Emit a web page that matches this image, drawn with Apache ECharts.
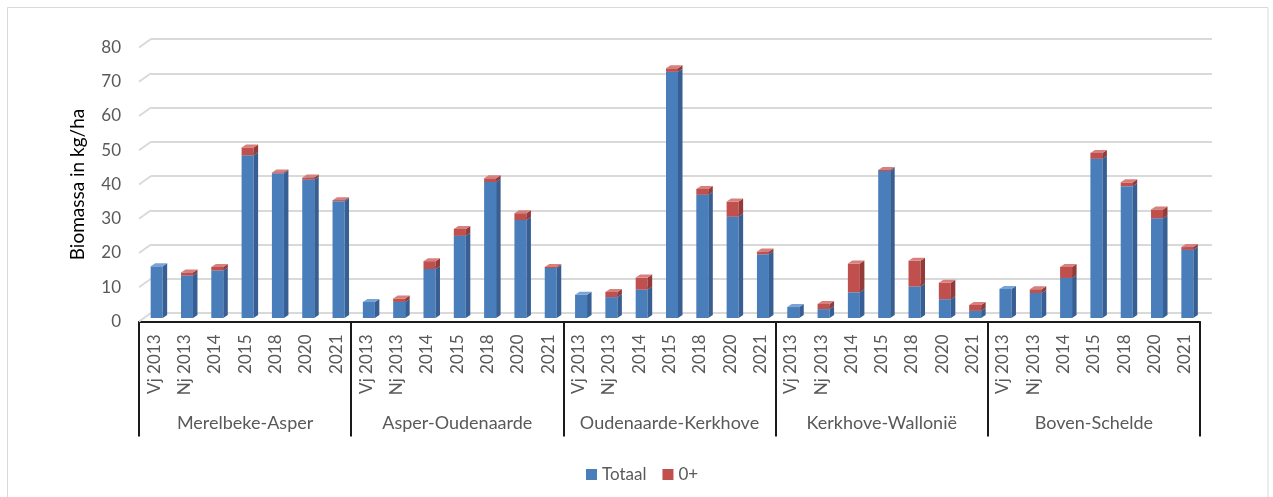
<!DOCTYPE html>
<html>
<head>
<meta charset="utf-8">
<title>Biomassa per traject</title>
<script src="https://cdn.jsdelivr.net/npm/echarts@6/dist/echarts.min.js"></script>
<style>
  html, body { margin: 0; padding: 0; background: #ffffff; }
  #chart { width: 1273px; height: 497px; }
</style>
</head>
<body>
<div id="chart"></div>
<script>
// Sampling periods within each river stretch
const periods = ['Vj 2013', 'Nj 2013', '2014', '2015', '2018', '2020', '2021'];
const trajecten = ['Merelbeke-Asper', 'Asper-Oudenaarde', 'Oudenaarde-Kerkhove', 'Kerkhove-Wallonië', 'Boven-Schelde'];

// Biomass (kg/ha), lower segment of each column
const totaal = [
  15.1, 12.4, 13.9, 47.5, 42.2, 40.4, 34.1,
  4.7, 4.7, 14.3, 24.0, 39.7, 28.6, 14.6,
  6.8, 6.1, 8.3, 71.9, 36.0, 29.6, 18.6,
  3.2, 2.6, 7.5, 42.9, 9.2, 5.5, 2.1,
  8.5, 7.3, 11.7, 46.5, 38.5, 29.1, 19.9
];

// Biomass (kg/ha) of the 0+ fish, stacked on top
const nulPlus = [
  0, 0.9, 1.0, 2.3, 0.3, 0.6, 0.3,
  0, 1.0, 2.3, 2.0, 1.1, 2.0, 0.3,
  0, 1.5, 3.5, 1.0, 1.7, 4.4, 0.8,
  0, 1.5, 8.4, 0.3, 7.5, 4.8, 1.7,
  0, 1.1, 3.2, 1.7, 1.1, 2.6, 0.8
];

const yTicks = [0, 10, 20, 30, 40, 50, 60, 70, 80];

const categories = trajecten.flatMap(() => periods);

// Pseudo-3D column look
const BAR_W = 12;        // front face width
const BAR_OFF = -3.5;    // front face left edge relative to band centre
const LIFT = 3.5;        // columns stand slightly behind the front floor edge
const DX = 4.5, DY = 3;  // depth of the column prism
const WALL_DX = 12, WALL_DY = 8.5; // back wall offset

const shades = {
  blue: { front: '#4a7ebb', side: '#375f93', top: '#7aa3d6' },
  red:  { front: '#c0504d', side: '#923b39', top: '#d8807d' }
};

function prism(api, lo, hi, c) {
  const idx = api.value(0);
  const cx = api.coord([idx, 0])[0];
  const yb = api.coord([idx, lo])[1] - LIFT;
  const yt = api.coord([idx, hi])[1] - LIFT;
  const x0 = cx + BAR_OFF, x1 = x0 + BAR_W;
  return {
    type: 'group',
    children: [
      { type: 'rect', shape: { x: x0, y: yt, width: BAR_W, height: yb - yt }, style: { fill: c.front } },
      { type: 'polygon', shape: { points: [[x1, yb], [x1 + DX, yb - DY], [x1 + DX, yt - DY], [x1, yt]] }, style: { fill: c.side } },
      { type: 'polygon', shape: { points: [[x0, yt], [x1, yt], [x1 + DX, yt - DY], [x0 + DX, yt - DY]] }, style: { fill: c.top } }
    ]
  };
}

const chart = echarts.init(document.getElementById('chart'), null, { renderer: 'canvas' });

chart.setOption({
  animation: false,
  backgroundColor: '#ffffff',
  textStyle: { fontFamily: 'Lato' },
  graphic: [{
    type: 'rect', silent: true, z: -10,
    shape: { x: 7.5, y: 7.5, width: 1260.5, height: 496 },
    style: { fill: 'none', stroke: '#d9d9d9', lineWidth: 1 }
  }],
  legend: {
    left: 581, top: 461,
    icon: 'rect', itemWidth: 11, itemHeight: 11, itemGap: 16,
    textStyle: { fontSize: 17, color: '#595959', fontFamily: 'Lato' },
    data: ['Totaal', '0+']
  },
  grid: [
    { left: 139, right: 73, top: 47.5, bottom: 175.5 },
    { left: 139 + WALL_DX, right: 73 - WALL_DX, top: 47.5 - WALL_DY, bottom: 175.5 + WALL_DY }
  ],
  xAxis: [
    {
      type: 'category', gridIndex: 0, data: categories, position: 'bottom',
      axisLine: { onZero: false, lineStyle: { color: '#1a1a1a', width: 2 } },
      axisTick: { show: false },
      axisLabel: { interval: 0, rotate: 90, margin: 13, fontSize: 17, color: '#595959', fontFamily: 'Lato' },
      splitLine: { show: false }
    },
    {
      type: 'category', gridIndex: 0, data: trajecten, position: 'bottom',
      axisLine: { show: false, onZero: false },
      axisTick: { show: true, interval: 0, length: 115, lineStyle: { color: '#1a1a1a', width: 2 } },
      axisLabel: { interval: 0, margin: 93, fontSize: 18, lineHeight: 18, color: '#595959', fontFamily: 'Lato' },
      splitLine: { show: false }
    },
    { type: 'value', gridIndex: 1, min: 0, max: 1, show: false }
  ],
  yAxis: [
    {
      type: 'value', gridIndex: 0, min: 0, max: 80, interval: 10,
      axisLine: { show: false }, axisTick: { show: false }, splitLine: { show: false },
      axisLabel: { margin: 18, fontSize: 17, color: '#595959', fontFamily: 'Lato' },
      name: 'Biomassa in kg/ha', nameLocation: 'middle', nameGap: 52,
      nameTextStyle: { fontSize: 19, color: '#000000', fontFamily: 'Lato' }
    },
    {
      type: 'value', gridIndex: 1, min: 0, max: 80, interval: 10,
      axisLine: { show: false }, axisTick: { show: false }, axisLabel: { show: false },
      splitLine: { show: true, lineStyle: { color: '#d9d9d9', width: 2 } }
    }
  ],
  series: [
    {
      // slanted side-wall edges joining the front labels to the back-wall gridlines
      type: 'custom', name: 'wand', xAxisIndex: 2, yAxisIndex: 1, silent: true, z: 1,
      data: yTicks.map(v => [0, v]),
      renderItem: function (params, api) {
        const back = api.coord([0, api.value(1)]);
        return {
          type: 'line',
          shape: { x1: back[0] - WALL_DX, y1: back[1] + WALL_DY, x2: back[0], y2: back[1] },
          style: { stroke: '#d9d9d9', lineWidth: 2 }
        };
      }
    },
    {
      type: 'custom', name: 'Totaal', xAxisIndex: 0, yAxisIndex: 0, z: 3,
      itemStyle: { color: shades.blue.front },
      data: totaal.map((v, i) => [i, 0, v]),
      encode: { x: 0, y: 2 },
      renderItem: function (params, api) {
        return prism(api, api.value(1), api.value(2), shades.blue);
      }
    },
    {
      type: 'custom', name: '0+', xAxisIndex: 0, yAxisIndex: 0, z: 4,
      itemStyle: { color: shades.red.front },
      data: nulPlus.map((v, i) => [i, totaal[i], totaal[i] + v]),
      encode: { x: 0, y: 2 },
      renderItem: function (params, api) {
        if (api.value(2) - api.value(1) <= 0) return { type: 'group', children: [] };
        return prism(api, api.value(1), api.value(2), shades.red);
      }
    }
  ]
});
</script>
</body>
</html>
